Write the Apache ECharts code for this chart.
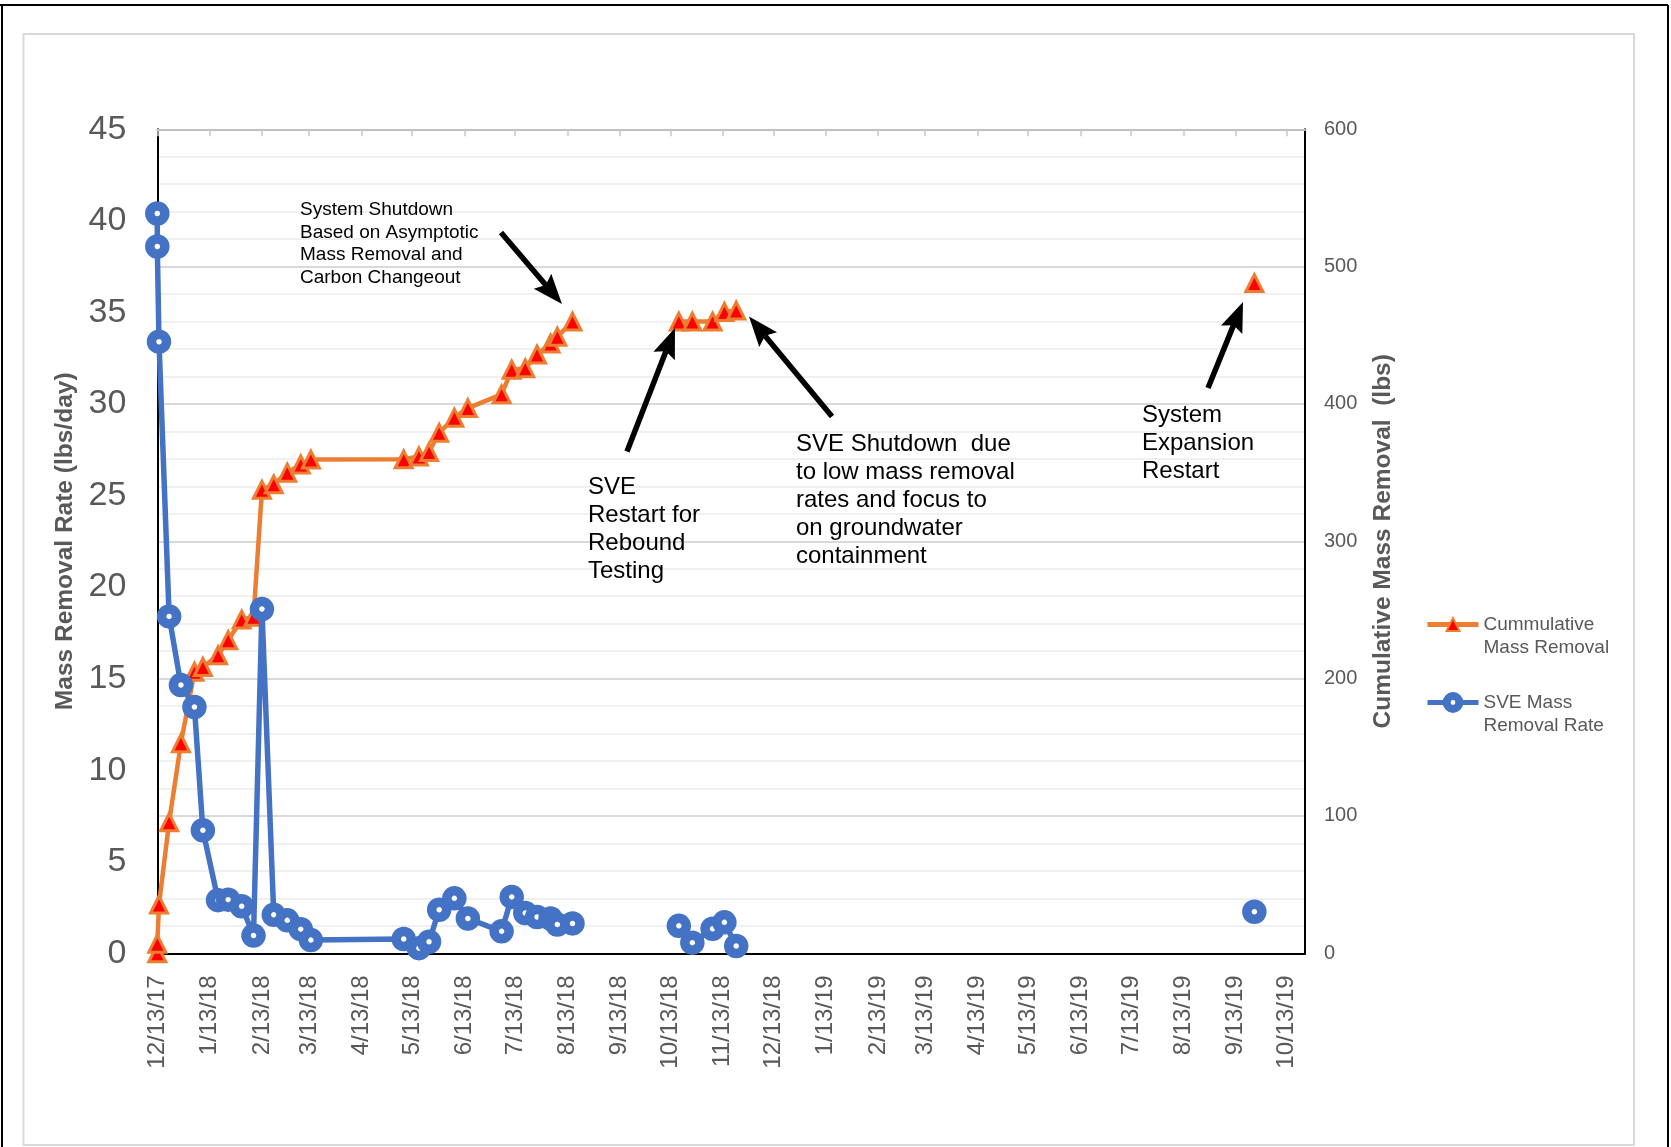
<!DOCTYPE html>
<html>
<head>
<meta charset="utf-8">
<script src="https://cdn.jsdelivr.net/npm/echarts@6/dist/echarts.min.js"></script>
<style>
html,body{margin:0;padding:0;background:#fff;}
#chart{width:1671px;height:1147px;}
</style>
</head>
<body>
<div id="chart"></div>
<script>
// ---------------- data ----------------
const sampleDates = ['2017-12-13','2017-12-13','2017-12-14','2017-12-20','2017-12-27','2018-01-04','2018-01-09','2018-01-18','2018-01-24','2018-02-01','2018-02-08','2018-02-13','2018-02-20','2018-02-28','2018-03-08','2018-03-14','2018-05-08','2018-05-17','2018-05-23','2018-05-29','2018-06-07','2018-06-15','2018-07-05','2018-07-11','2018-07-19','2018-07-26','2018-08-03','2018-08-07','2018-08-16','2018-09-15','2018-10-18','2018-10-26','2018-11-07','2018-11-14','2018-11-21','2019-06-01','2019-09-24'];
const removalRate = [40.4,38.6,33.4,18.4,14.65,13.45,6.72,2.9,2.93,2.57,0.97,18.8,2.1,1.8,1.32,0.72,0.78,0.28,0.63,2.38,3.0,1.9,1.2,3.08,2.2,1.98,1.9,1.57,1.63,null,1.5,0.58,1.34,1.69,0.4,null,2.27];
const cumulativeRemoval = [0,7,35.5,95.5,153,205,208.5,217,228,243,245,337.5,341.5,350,356,359.5,359.7,361.8,365,379,390,397,407,425,426,436,444,449,460,null,460,460,460,467,468,null,488];
const monthTickDates = ['2017-12-13','2018-01-13','2018-02-13','2018-03-13','2018-04-13','2018-05-13','2018-06-13','2018-07-13','2018-08-13','2018-09-13','2018-10-13','2018-11-13','2018-12-13','2019-01-13','2019-02-13','2019-03-13','2019-04-13','2019-05-13','2019-06-13','2019-07-13','2019-08-13','2019-09-13','2019-10-13'];
const xMinDate = '2017-12-13';
const xMaxDate = '2019-10-24';
const leftTicks = {min:0, max:45, interval:5};
const rightTicks = {min:0, max:600, interval:100};
const seriesNames = ['Cummulative Mass Removal','SVE Mass Removal Rate'];
const legendLabels = {'Cummulative Mass Removal':'Cummulative\nMass Removal','SVE Mass Removal Rate':'SVE Mass\nRemoval Rate'};
const leftAxisTitle = 'Mass Removal Rate (lbs/day)';
const rightAxisTitle = 'Cumulative Mass Removal  (lbs)';
const notes = [
  {text:'System Shutdown\nBased on Asymptotic\nMass Removal and\nCarbon Changeout', x:300, y:199, size:19, lh:22.5},
  {text:'SVE\nRestart for\nRebound\nTesting', x:588, y:473, size:24, lh:28},
  {text:'SVE Shutdown  due\nto low mass removal\nrates and focus to\non groundwater\ncontainment', x:796, y:430.5, size:24, lh:28},
  {text:'System\nExpansion\nRestart', x:1142, y:401.5, size:24, lh:28}
];
const arrows = [
  [501,232.5,562,304],
  [627,451.5,675,328],
  [832,416.5,749,316.5],
  [1208,388,1243,302]
];

// ---------------- helpers ----------------
const FONT = "'Liberation Sans', Arial, Helvetica, sans-serif";
function ts(s){const p=s.split('-').map(Number);return Date.UTC(p[0],p[1]-1,p[2]);}
function fmt(v){const d=new Date(v);return (d.getUTCMonth()+1)+'/'+d.getUTCDate()+'/'+String(d.getUTCFullYear()).slice(2);}
const monthTicks = monthTickDates.map(ts);
const rateData = sampleDates.map((d,i)=>[ts(d),removalRate[i]]);
const cumData = sampleDates.map((d,i)=>[ts(d),cumulativeRemoval[i]]);

function arrowShapes(a){
  const [x1,y1,x2,y2]=a; const L=30, W=23, notch=5, lw=5.5;
  const dx=x2-x1, dy=y2-y1, len=Math.hypot(dx,dy); const ux=dx/len, uy=dy/len; const px=-uy, py=ux;
  const bx=x2-ux*L, by=y2-uy*L; const nx=bx+ux*notch, ny=by+uy*notch;
  return [
    {type:'line', z:20, shape:{x1:x1,y1:y1,x2:nx,y2:ny}, style:{stroke:'#000', lineWidth:lw}},
    {type:'polygon', z:20, shape:{points:[[x2,y2],[bx+px*W/2,by+py*W/2],[nx,ny],[bx-px*W/2,by-py*W/2]]}, style:{fill:'#000'}}
  ];
}
const graphics = [
  {type:'rect', shape:{x:23.5,y:34,width:1610.5,height:1111}, style:{fill:null, stroke:'#d9d9d9', lineWidth:2}, z:-1},
  {type:'line', z:20, shape:{x1:0,y1:5,x2:1668,y2:5}, style:{stroke:'#000', lineWidth:2}},
  {type:'line', z:20, shape:{x1:2,y1:5,x2:2,y2:1147}, style:{stroke:'#000', lineWidth:2}},
  {type:'line', z:20, shape:{x1:1668,y1:5,x2:1668,y2:1147}, style:{stroke:'#000', lineWidth:2}}
];
notes.forEach(n=>graphics.push({type:'text', z:20, x:n.x, y:n.y, style:{text:n.text, fontSize:n.size, fontFamily:FONT, lineHeight:n.lh, fill:'#000', verticalAlign:'top', align:'left'}}));
arrows.forEach(a=>arrowShapes(a).forEach(s=>graphics.push(s)));

const chart = echarts.init(document.getElementById('chart'), null, {renderer:'canvas'});
chart.setOption({
  animation:false,
  backgroundColor:'#fff',
  grid:{left:157.3, right:366, top:129.3, bottom:193.7, containLabel:false},
  legend:{
    orient:'vertical', left:1420, top:585, itemWidth:51, itemHeight:16, itemGap:9,
    data:[
      {name:seriesNames[0], lineStyle:{width:5}, itemStyle:{color:'#FF0000', borderColor:'#ED7D31', borderWidth:2}},
      {name:seriesNames[1], lineStyle:{width:5}, itemStyle:{color:'#ffffff', borderColor:'#4472C4', borderWidth:8}}
    ],
    formatter:n=>'\n'+legendLabels[n],
    textStyle:{fontSize:19, fontFamily:FONT, color:'#595959', lineHeight:23}
  },
  xAxis:[
    {type:'value', min:ts(xMinDate), max:ts(xMaxDate), position:'bottom',
     axisLine:{show:true, onZero:false, lineStyle:{color:'#000', width:2}},
     axisTick:{show:false}, splitLine:{show:false},
     axisLabel:{customValues:monthTicks, formatter:fmt, rotate:90, fontSize:24, fontFamily:FONT, color:'#595959', margin:22, hideOverlap:false}},
    {type:'value', min:ts(xMinDate), max:ts(xMaxDate), position:'top',
     axisLine:{show:true, onZero:false, lineStyle:{color:'#bfbfbf', width:2}},
     axisTick:{show:true, customValues:monthTicks, inside:true, length:7, lineStyle:{color:'#c8c8c8', width:1.5}},
     axisLabel:{show:false}, splitLine:{show:false}}
  ],
  yAxis:[
    {type:'value', position:'left', min:leftTicks.min, max:leftTicks.max, interval:leftTicks.interval,
     name:leftAxisTitle, nameLocation:'middle', nameRotate:90, nameGap:67,
     nameTextStyle:{fontSize:24.5, fontWeight:'bold', fontFamily:FONT, color:'#595959'},
     axisLine:{show:true, onZero:false, lineStyle:{color:'#000', width:2}}, axisTick:{show:false}, splitLine:{show:false},
     axisLabel:{fontSize:34, fontFamily:FONT, color:'#595959', margin:31}},
    {type:'value', position:'right', min:rightTicks.min, max:rightTicks.max, interval:rightTicks.interval,
     name:rightAxisTitle, nameLocation:'middle', nameRotate:90, nameGap:66,
     nameTextStyle:{fontSize:24.5, fontWeight:'bold', fontFamily:FONT, color:'#595959'},
     axisLine:{show:true, onZero:false, lineStyle:{color:'#000', width:2}}, axisTick:{show:false},
     splitLine:{show:true, lineStyle:{color:'#d9d9d9', width:2}},
     minorTick:{show:false, splitNumber:5},
     minorSplitLine:{show:true, lineStyle:{color:'#f0f0f0', width:2}},
     axisLabel:{fontSize:20, fontFamily:FONT, color:'#595959', margin:19}}
  ],
  series:[
    {name:seriesNames[0], type:'line', xAxisIndex:0, yAxisIndex:1, data:cumData, connectNulls:false,
     symbol:'triangle', symbolSize:17, showAllSymbol:true,
     lineStyle:{color:'#ED7D31', width:4.5},
     itemStyle:{color:'#FF0000', borderColor:'#ED7D31', borderWidth:3}, z:2},
    {name:seriesNames[1], type:'line', xAxisIndex:0, yAxisIndex:0, data:rateData, connectNulls:false,
     symbol:'circle', symbolSize:15, showAllSymbol:true,
     lineStyle:{color:'#4472C4', width:5.5},
     itemStyle:{color:'#ffffff', borderColor:'#4472C4', borderWidth:9.5}, z:3}
  ],
  graphic:graphics
});
</script>
</body>
</html>
